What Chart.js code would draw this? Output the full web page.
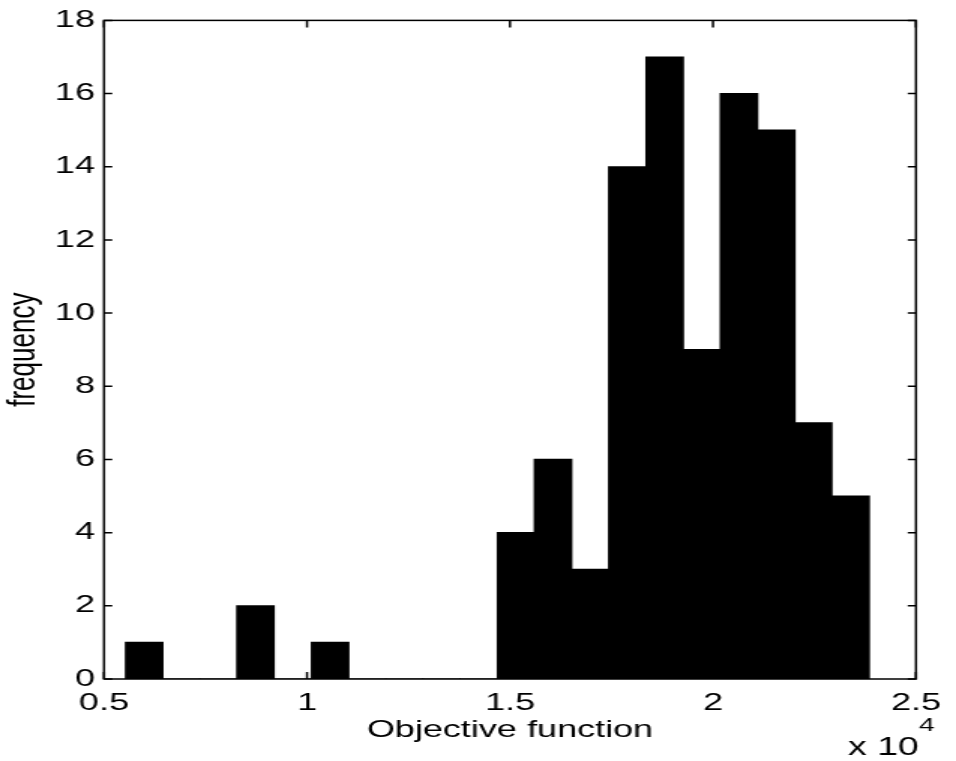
<!DOCTYPE html>
<html>
<head>
  <title>Objective function histogram</title>
  <script src="https://cdn.jsdelivr.net/npm/chart.js"></script>
  <style>
    body {
      margin: 0;
      background: #fff;
    }
    #hist {
      display: block;
    }
  </style>
</head>
<body>
  <!-- the original figure is stretched sideways, so the canvas is drawn narrow and stretched too -->
  <canvas id="hist" width="637" height="761" style="width:956px;height:761px"></canvas>

  <script>
    // bin centres (x 10^4) and counts
    const binCenters = [0.599, 0.690, 0.782, 0.873, 0.965, 1.057, 1.148, 1.240, 1.331, 1.423,
                        1.515, 1.606, 1.698, 1.789, 1.881, 1.973, 2.064, 2.156, 2.247, 2.339];
    const counts = [1, 0, 0, 2, 0, 1, 0, 0, 0, 0,
                    4, 6, 3, 14, 17, 9, 16, 15, 7, 5];
    const xTicks = [0.5, 1, 1.5, 2, 2.5];
    const yTicks = [0, 2, 4, 6, 8, 10, 12, 14, 16, 18];
    const xExponent = '4';

    const font = '"Liberation Sans", Arial, Helvetica, sans-serif';

    // MATLAB style box with inward ticks on all four sides
    const frame = {
      id: 'frame',
      afterDatasetsDraw(chart) {
        const { ctx, chartArea: a, scales: { x, y } } = chart;
        ctx.save();
        ctx.strokeStyle = '#000';
        ctx.lineWidth = 1.5;
        ctx.strokeRect(a.left, a.top, a.right - a.left, a.bottom - a.top);
        ctx.beginPath();
        x.ticks.forEach(t => {
          const px = x.getPixelForValue(t.value);
          ctx.moveTo(px, a.bottom); ctx.lineTo(px, a.bottom - 7);
          ctx.moveTo(px, a.top); ctx.lineTo(px, a.top + 7);
        });
        y.ticks.forEach(t => {
          const py = y.getPixelForValue(t.value);
          ctx.moveTo(a.left, py); ctx.lineTo(a.left + 5.5, py);
          ctx.moveTo(a.right, py); ctx.lineTo(a.right - 5.5, py);
        });
        ctx.stroke();

        // "x 10^4" multiplier under the right end of the x axis
        ctx.fillStyle = '#000';
        ctx.textBaseline = 'alphabetic';
        ctx.font = '25px ' + font;
        const base = 'x 10';
        const bx = 565;
        ctx.fillText(base, bx, 755);
        const w = ctx.measureText(base).width;
        ctx.font = '19px ' + font;
        ctx.fillText(xExponent, bx + w, 731);
        ctx.restore();
      }
    };

    const ctx = document.getElementById('hist').getContext('2d');
    new Chart(ctx, {
      type: 'bar',
      data: {
        datasets: [{
          data: binCenters.map((c, i) => ({ x: c, y: counts[i] })),
          backgroundColor: '#000',
          borderWidth: 0,
          inflateAmount: 0.6,
          barPercentage: 1,
          categoryPercentage: 1
        }]
      },
      options: {
        responsive: false,
        animation: false,
        layout: { padding: { top: 16, right: 20, left: 0, bottom: 0 } },
        plugins: {
          legend: { display: false },
          tooltip: { enabled: false }
        },
        scales: {
          x: {
            type: 'linear',
            min: 0.5,
            max: 2.5,
            offset: false,
            grid: { display: false, offset: false, drawTicks: false },
            border: { display: false },
            afterBuildTicks: s => { s.ticks = xTicks.map(v => ({ value: v })); },
            afterFit: s => { s.height = 82; },
            ticks: {
              color: '#000',
              padding: 10,
              maxRotation: 0,
              callback: v => String(v),
              font: { family: font, size: 24 }
            },
            title: {
              display: true,
              text: 'Objective function',
              color: '#000',
              padding: { top: 0, bottom: 19 },
              font: { family: font, size: 24, lineHeight: 1 }
            }
          },
          y: {
            min: 0,
            max: 18,
            grid: { display: false, drawTicks: false },
            border: { display: false },
            afterBuildTicks: s => { s.ticks = yTicks.map(v => ({ value: v })); },
            afterFit: s => { s.width = 69.3; },
            ticks: {
              color: '#000',
              padding: 6,
              callback: v => String(v),
              font: { family: font, size: 24 }
            },
            title: {
              display: true,
              text: 'frequency',
              color: '#000',
              padding: { top: 2.5, bottom: 0 },
              font: { family: font, size: 26, lineHeight: 1 }
            }
          }
        }
      },
      plugins: [frame]
    });
  </script>
</body>
</html>
